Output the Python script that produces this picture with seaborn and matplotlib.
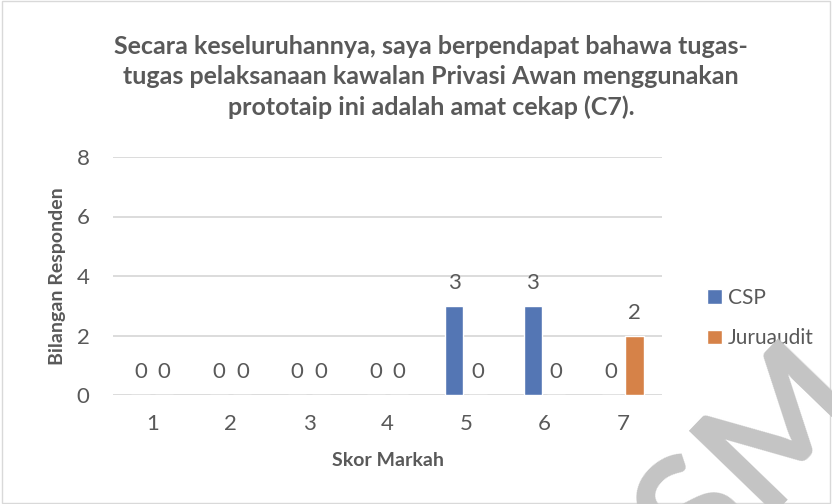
import matplotlib
matplotlib.use("Agg")
import matplotlib.pyplot as plt
import seaborn as sns
import pandas as pd
from matplotlib.patches import Rectangle

categories = ["1", "2", "3", "4", "5", "6", "7"]
csp = [0, 0, 0, 0, 3, 3, 0]
juruaudit = [0, 0, 0, 0, 0, 0, 2]
series_names = ["CSP", "Juruaudit"]
colors = ["#4472C4", "#ED7D31"]
yticks = [0, 2, 4, 6, 8]
title = "Secara keseluruhannya, saya berpendapat bahawa tugas-\ntugas pelaksanaan kawalan Privasi Awan menggunakan\nprototaip ini adalah amat cekap (C7)."
watermark = "USM"

df = pd.DataFrame({
    "Skor": categories * 2,
    "Nilai": csp + juruaudit,
    "Siri": [series_names[0]] * len(categories) + [series_names[1]] * len(categories),
})

sns.set_theme(style="white")
plt.rcParams["font.family"] = ["Lato", "DejaVu Sans"]
txt = "#595959"

fig = plt.figure(figsize=(8.32, 5.04), dpi=100)

ax = fig.add_axes([113/832, 1 - 395/504, (662 - 113)/832, (395 - 157)/504])
ax.patch.set_alpha(0)

sns.barplot(data=df, x="Skor", y="Nilai", hue="Siri", palette=colors, width=0.6,
            gap=0.23, ax=ax, order=categories, hue_order=series_names, legend=True)

ax.set_ylim(0, 8)
ax.set_yticks(yticks)
ax.set_xlim(-0.5, len(categories) - 0.5)
ax.yaxis.grid(True, color="#D9D9D9", linewidth=1.3)
ax.set_axisbelow(True)
for s in ax.spines.values():
    s.set_visible(False)
ax.tick_params(axis="both", length=0, labelsize=16, colors=txt)
ax.tick_params(axis="x", pad=14)
ax.tick_params(axis="y", pad=17)

for cont in ax.containers:
    ax.bar_label(cont, labels=[f"{v:g}" for v in cont.datavalues], padding=9,
                 fontsize=16, color=txt)

ax.set_xlabel("Skor Markah", fontsize=14, fontweight="bold", color=txt)
ax.set_ylabel("Bilangan Responden", fontsize=14, fontweight="bold", color=txt)
ax.xaxis.set_label_coords(0.5, (395 - 452) / 238)
ax.yaxis.set_label_coords((66 - 113) / 549, 0.5)

leg = ax.legend(loc="center left", bbox_to_anchor=(707/832, 1 - 318/504),
                bbox_transform=fig.transFigure, frameon=False, fontsize=15,
                borderpad=0, borderaxespad=0,
                handlelength=0.7, handleheight=0.7, handletextpad=0.3, labelspacing=1.0,
                labelcolor=txt)

fig.text(431/832, 1 - 77/504, title, ha="center", va="center", fontsize=18,
         fontweight="bold", color=txt, linespacing=1.38)

# faint watermark lying over the lower right corner
fig.text(782/832, 1 - 318/504, watermark, fontsize=118, fontweight="bold", color="#C4C4C4",
         rotation=46, ha="right", va="top", rotation_mode="anchor", zorder=10)

fig.patches.append(Rectangle((0.002, 0.002), 0.996, 0.996, transform=fig.transFigure,
                             fill=False, edgecolor="#D9D9D9", linewidth=1))

fig.savefig("out.png", dpi=100)
